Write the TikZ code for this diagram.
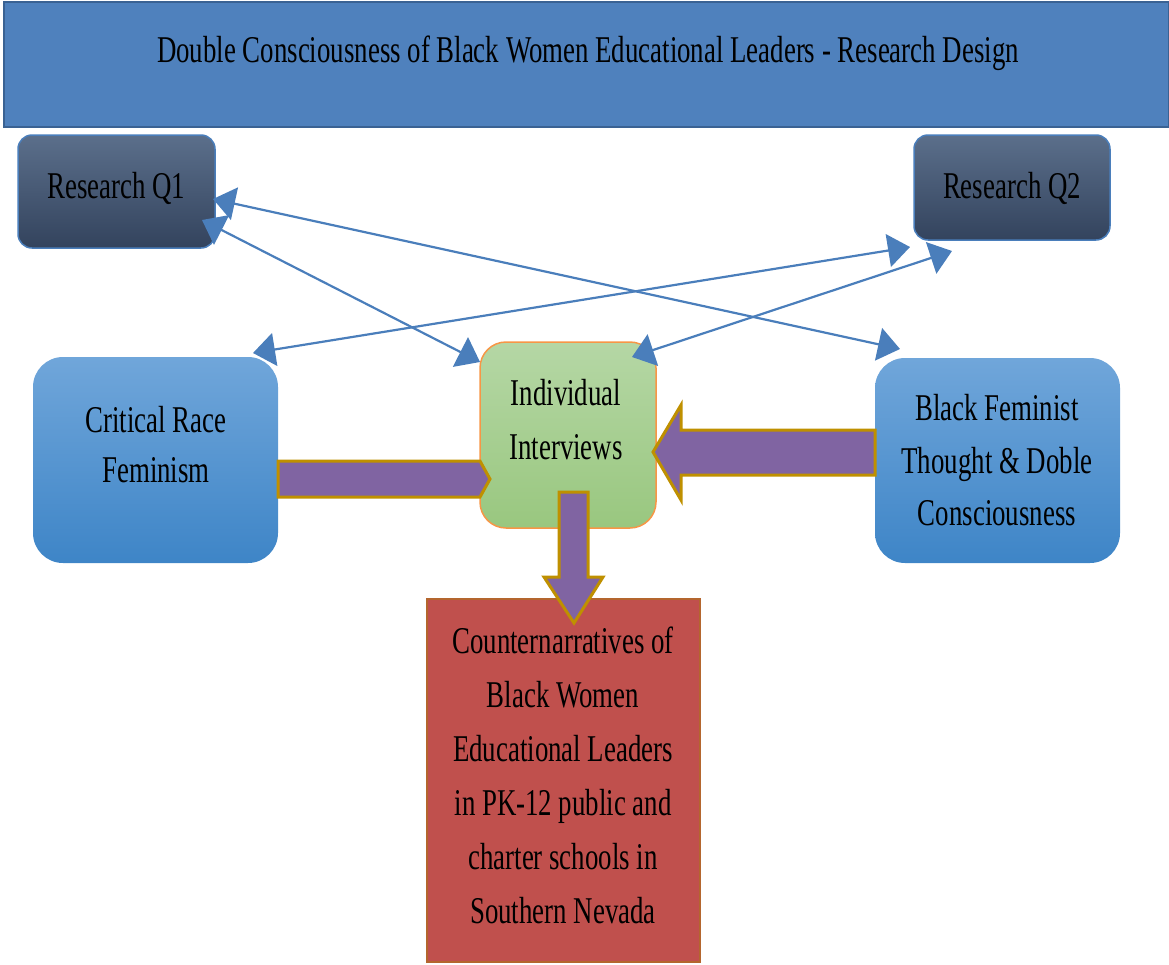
\documentclass[tikz,border=0pt]{standalone}
\usepackage{fontspec}
\newfontfamily\cond[FakeStretch=0.71]{Liberation Serif}
\usetikzlibrary{arrows.meta,calc}
\definecolor{titleblue}{HTML}{4F81BD}
\definecolor{titleedge}{HTML}{3A6293}
\definecolor{qtop}{HTML}{5B6F8B}
\definecolor{qbot}{HTML}{33435D}
\definecolor{qedge}{HTML}{4A7EBB}
\definecolor{ltop}{HTML}{70A6DA}
\definecolor{lbot}{HTML}{3E85C7}
\definecolor{gtop}{HTML}{B5D7A5}
\definecolor{gbot}{HTML}{99C77F}
\definecolor{gedge}{HTML}{F79646}
\definecolor{redfill}{HTML}{C0504D}
\definecolor{rededge}{HTML}{B4662E}
\definecolor{linkblue}{HTML}{4A7EBB}
\definecolor{arrowpurple}{HTML}{8064A2}
\definecolor{arrowgold}{HTML}{BF9000}
\begin{document}
\begin{tikzpicture}[x=1pt,y=-1pt,
  box/.style={rectangle, inner sep=0pt, outer sep=0pt},
  qbox/.style={box, rounded corners=14pt, top color=qtop, bottom color=qbot, draw=qedge, line width=1.5pt},
  lbox/.style={box, rounded corners=30pt, top color=ltop, bottom color=lbot},
  txt/.style={align=center, inner sep=0pt, text=black},
  link/.style={draw=linkblue, line width=2.2pt, {Triangle[length=22pt,width=33pt]}-{Triangle[length=22pt,width=33pt]}},
  blockarrow/.style={fill=arrowpurple, draw=arrowgold, line width=3pt, line join=miter}]
\useasboundingbox (0,0) rectangle (1169,964);

% title bar
\node[box, minimum width=1165pt, minimum height=125pt, fill=titleblue, draw=titleedge, line width=2pt] (bar) at (586.5,64.5) {};
\node[txt, font=\cond\fontsize{37.8}{50}\selectfont] (title) at (588,53) {Double Consciousness of Black Women Educational Leaders - Research Design};

% research questions
\node[qbox, minimum width=197pt, minimum height=113pt] (q1) at (116.5,191.5) {};
\node[txt, font=\cond\fontsize{37.8}{50}\selectfont] (q1t) at (116.5,188) {Research Q1};
\node[qbox, minimum width=196pt, minimum height=105pt] (q2) at (1012,187.5) {};
\node[txt, font=\cond\fontsize{37.8}{50}\selectfont] (q2t) at (1012,188) {Research Q2};

% side boxes
\node[lbox, minimum width=245pt, minimum height=206pt] (crf) at (155.5,460) {};
\node[txt, font=\cond\fontsize{37.8}{50}\selectfont] (crft) at (156,445) {Critical Race\\Feminism};
\node[lbox, minimum width=245pt, minimum height=205pt] (bft) at (997.5,460.5) {};
\node[txt, font=\cond\fontsize{37.8}{52.5}\selectfont] (bftt) at (997,460.5) {Black Feminist\\Thought \& Doble\\Consciousness};

% interviews
\node[box, rounded corners=26pt, minimum width=176pt, minimum height=186pt, top color=gtop, bottom color=gbot, draw=gedge, line width=1.5pt] (ii) at (568,435) {};
\node[txt, font=\cond\fontsize{37.8}{54}\selectfont] (iit) at (566,420) {Individual\\Interviews};

% counternarratives
\node[box, minimum width=273pt, minimum height=363pt, fill=redfill, draw=rededge, line width=2pt] (cn) at (563.5,780.5) {};
\node[txt, font=\cond\fontsize{37.8}{54}\selectfont] (cnt) at (563,775) {Counternarratives of\\Black Women\\Educational Leaders\\in PK-12 public and\\charter schools in\\Southern Nevada};

% block arrows
\draw[blockarrow] ($(crf.east)+(0,1)$) -- ($(ii.west)+(0,26)$) -- ($(ii.west)+(10,44)$) -- ($(ii.west)+(0,62)$) -- ($(crf.east)+(0,37)$) -- cycle;
\draw[blockarrow] ($(bft.west)+(0,-30.5)$) -- ($(ii.east)+(25,-5)$) -- ($(ii.east)+(25,-30)$) -- ($(ii.east)+(-3,17)$) -- ($(ii.east)+(25,65)$) -- ($(ii.east)+(25,40)$) -- ($(bft.west)+(0,14.5)$) -- cycle;
\draw[blockarrow] ($(ii.south)+(-9,-36)$) -- ($(ii.south)+(20,-36)$) -- ($(cn.north)+(24.5,-22)$) -- ($(cn.north)+(39.5,-22)$) -- ($(cn.north)+(10.5,24)$) -- ($(cn.north)+(-19.5,-22)$) -- ($(cn.north)+(-4.5,-22)$) -- cycle;

% connectors
\coordinate (qa) at ($(q1.east)+(-2,7.5)$);
\coordinate (qb) at ($(q1.south east)+(-13,-28)$);
\coordinate (qc) at ($(q2.south west)+(-4,7)$);
\coordinate (qd) at ($(q2.south west)+(38,11)$);
\coordinate (ea) at ($(bft.north west)+(25,-9)$);
\coordinate (eb) at ($(ii.north west)+(0,20)$);
\coordinate (ec) at ($(crf.north east)+(-25,-4)$);
\coordinate (ed) at ($(ii.north east)+(-24,15)$);
\draw[link] (qa) -- (ea);
\draw[link] (qb) -- (eb);
\draw[link] (qc) -- (ec);
\draw[link] (qd) -- (ed);
\end{tikzpicture}
\end{document}
